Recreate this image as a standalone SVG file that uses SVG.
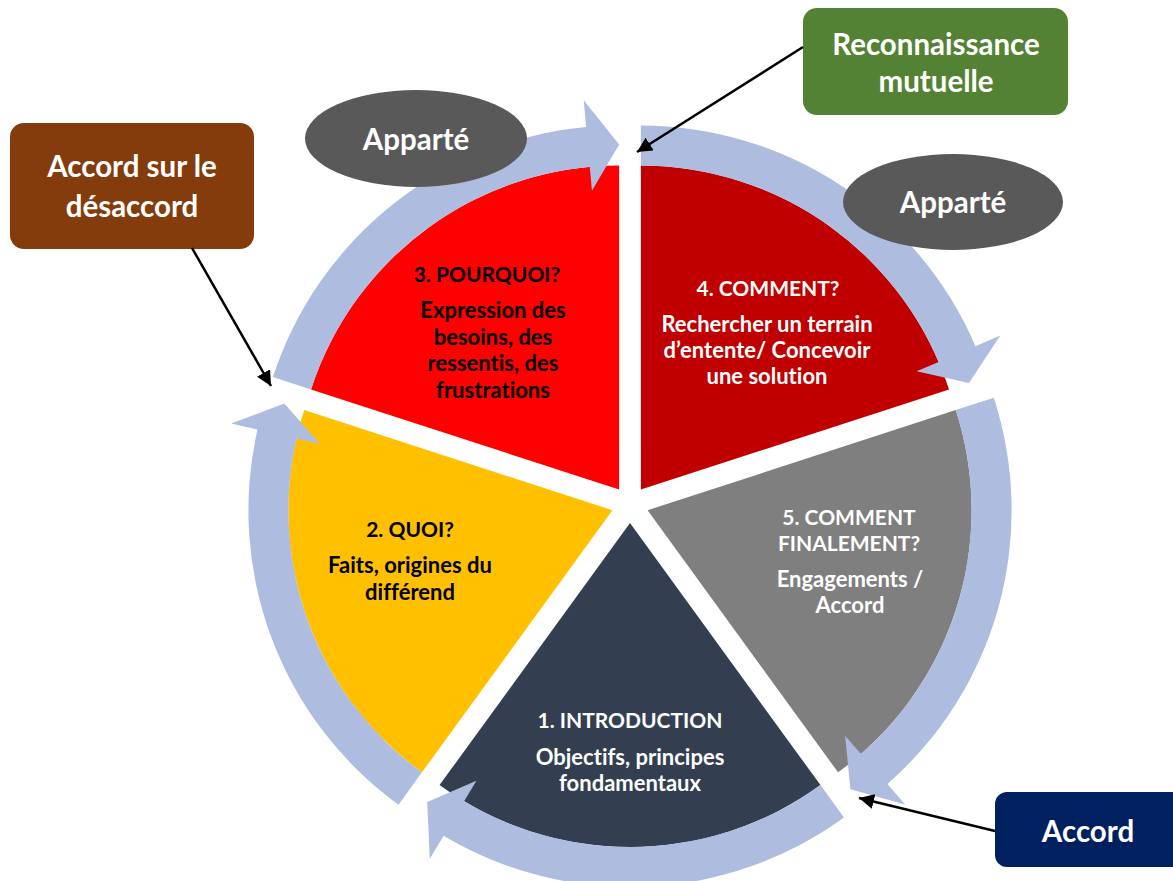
<svg xmlns="http://www.w3.org/2000/svg" width="1173" height="881" viewBox="0 0 1173 881">
  <defs>
    <marker id="ah" viewBox="0 0 10 10" refX="10" refY="5" markerWidth="6" markerHeight="6" markerUnits="strokeWidth" orient="auto">
      <path d="M0,0 L10,5 L0,10 Z" fill="#000"/>
    </marker>
    <style>
      text { font-family: Lato, "Liberation Sans", sans-serif; font-weight: bold; text-anchor: middle; font-variant-ligatures: none; font-feature-settings: "liga" 0, "clig" 0; }
      .hd { font-size: 21px; }
      .seg { font-size: 22px; }
      .big { font-size: 29.5px; fill: #fff; }
      .dk { fill: #000; }
      .wt { fill: #fff; }
      .band { fill: #AEBCDF; }
      .conn { stroke: #000; stroke-width: 2.5; fill: none; marker-end: url(#ah); }
    </style>
  </defs>
  <rect width="1173" height="881" fill="#fff"/>

  <!-- Segments -->
  <g id="seg4">
    <path d="M640.87,489.53 L640.87,165.53 A324,324 0 0 1 949.03,389.41 Z" fill="#C00000"/>
  </g>
  <g id="seg5">
    <path d="M647.60,510.22 L955.76,410.10 A324,324 0 0 1 838.05,772.34 Z" fill="#7F7F7F"/>
  </g>
  <g id="seg1">
    <path d="M630,523 L820.45,785.12 A324,324 0 0 1 439.55,785.12 Z" fill="#333F50"/>
  </g>
  <g id="seg2">
    <path d="M612.40,510.22 L421.95,772.34 A324,324 0 0 1 304.24,410.10 Z" fill="#FFC000"/>
  </g>
  <g id="seg3">
    <path d="M619.13,489.53 L310.97,389.41 A324,324 0 0 1 619.13,165.53 Z" fill="#FF0000"/>
  </g>

  <!-- Circular arrows -->
  <g id="cycle-arrows">
    <path class="band" d="M640.87,125.53 A364,364 0 0 1 975.42,346.15 L1000.24,335.52 L969.00,382.92 L916.60,371.36 L938.66,361.91 A324,324 0 0 0 640.87,165.53 Z"/>
    <path class="band" d="M993.80,397.74 A364,364 0 0 1 887.37,784.09 L905.15,804.41 L850.39,789.33 L845.21,735.94 L861.02,754.00 A324,324 0 0 0 955.76,410.10 Z"/>
    <path class="band" d="M843.96,817.48 A364,364 0 0 1 443.63,835.68 L429.81,858.87 L427.21,802.11 L476.40,780.70 L464.11,801.32 A324,324 0 0 0 820.45,785.12 Z"/>
    <path class="band" d="M398.44,804.70 A364,364 0 0 1 257.46,429.59 L231.14,423.61 L284.27,403.61 L319.87,443.77 L296.47,438.45 A324,324 0 0 0 421.95,772.34 Z"/>
    <path class="band" d="M272.93,377.05 A364,364 0 0 1 586.15,127.02 L583.71,100.13 L619.13,144.53 L591.95,190.76 L589.78,166.86 A324,324 0 0 0 310.97,389.41 Z"/>
  </g>

  <!-- Segment texts -->
  <g id="seg3-text">
    <text class="hd dk" x="487" y="282">3. POURQUOI?</text>
    <text class="seg dk" x="493" y="318">Expression des</text>
    <text class="seg dk" x="493" y="344.5">besoins, des</text>
    <text class="seg dk" x="493" y="371">ressentis, des</text>
    <text class="seg dk" x="493" y="397.5">frustrations</text>
  </g>
  <g id="seg4-text">
    <text class="hd wt" x="768" y="296">4. COMMENT?</text>
    <text class="seg wt" x="767" y="332">Rechercher un terrain</text>
    <text class="seg wt" x="767" y="358">d’entente/ Concevoir</text>
    <text class="seg wt" x="767" y="384">une solution</text>
  </g>
  <g id="seg5-text">
    <text class="hd wt" x="849" y="525">5. COMMENT</text>
    <text class="hd wt" x="849" y="551">FINALEMENT?</text>
    <text class="seg wt" x="850" y="587">Engagements /</text>
    <text class="seg wt" x="850" y="613">Accord</text>
  </g>
  <g id="seg1-text">
    <text class="hd wt" x="630" y="728">1. INTRODUCTION</text>
    <text class="seg wt" x="630" y="765">Objectifs, principes</text>
    <text class="seg wt" x="630" y="791">fondamentaux</text>
  </g>
  <g id="seg2-text">
    <text class="hd dk" x="410" y="537">2. QUOI?</text>
    <text class="seg dk" x="410" y="573">Faits, origines du</text>
    <text class="seg dk" x="410" y="600">différend</text>
  </g>

  <!-- Apparté ellipses -->
  <g id="apparte1">
    <ellipse cx="416" cy="138.5" rx="111" ry="48.5" fill="#595959"/>
    <text class="big" x="416" y="150">Apparté</text>
  </g>
  <g id="apparte2">
    <ellipse cx="953" cy="202" rx="110" ry="48" fill="#595959"/>
    <text class="big" x="953" y="213">Apparté</text>
  </g>

  <!-- Callout boxes -->
  <g id="reconnaissance">
    <rect x="803" y="8" width="265" height="107" rx="14" fill="#548235"/>
    <text class="big" x="936" y="55">Reconnaissance</text>
    <text class="big" x="936" y="92">mutuelle</text>
  </g>
  <g id="desaccord">
    <rect x="10" y="123" width="244" height="126" rx="14" fill="#843C0C"/>
    <text class="big" x="132" y="177">Accord sur le</text>
    <text class="big" x="132" y="217">désaccord</text>
  </g>
  <g id="accord">
    <rect x="995" y="792" width="190" height="75" rx="12" fill="#002060"/>
    <text class="big" x="1088" y="842">Accord</text>
  </g>

  <!-- Connectors -->
  <g id="connectors">
    <line class="conn" x1="803" y1="47" x2="637" y2="152"/>
    <line class="conn" x1="192" y1="248" x2="271" y2="386"/>
    <line class="conn" x1="995" y1="831" x2="859" y2="798"/>
  </g>
</svg>
